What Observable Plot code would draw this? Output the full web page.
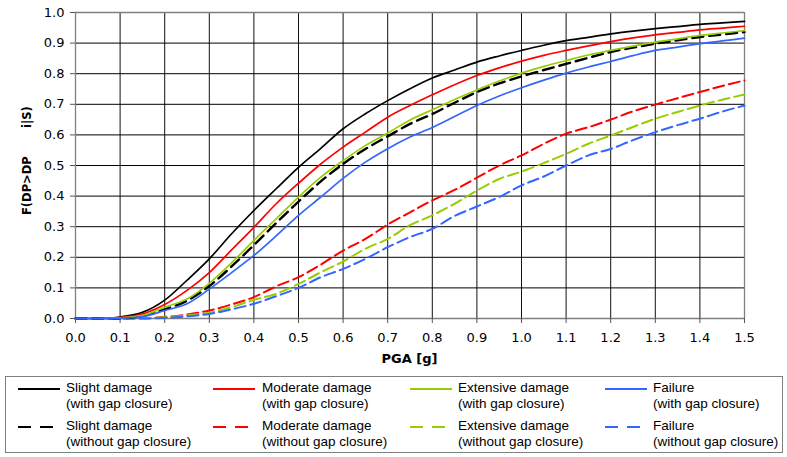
<!DOCTYPE html>
<html><head><meta charset="utf-8">
<script src="https://cdn.jsdelivr.net/npm/d3@7"></script>
<script src="https://cdn.jsdelivr.net/npm/@observablehq/plot@0.6"></script>
<style>
body{margin:0;background:#fff;}
#wrap{position:relative;width:787px;height:457px;overflow:hidden;}
#legendBox{position:absolute;left:5px;top:376px;width:778px;height:77px;border:1px solid #808080;box-sizing:border-box;}
.ltext{position:absolute;font-family:"Liberation Sans",Arial,sans-serif;font-size:13.5px;line-height:16px;color:#000;white-space:nowrap;}
.lsample{position:absolute;}
</style></head>
<body>
<div id="wrap"><div id="chart"></div><div id="legendBox"></div></div>
<script>
const pga = [0,0.05,0.1,0.15,0.2,0.25,0.3,0.35,0.4,0.45,0.5,0.55,0.6,0.65,0.7,0.75,0.8,0.85,0.9,0.95,1.0,1.05,1.1,1.15,1.2,1.25,1.3,1.35,1.4,1.45,1.5];
const slightWith   = [0,0,0.005,0.02,0.06,0.125,0.195,0.277,0.353,0.424,0.494,0.556,0.62,0.669,0.712,0.751,0.786,0.812,0.838,0.858,0.876,0.893,0.908,0.919,0.930,0.939,0.947,0.954,0.961,0.966,0.971];
const moderateWith = [0,0,0.003,0.015,0.046,0.092,0.15,0.224,0.298,0.375,0.442,0.505,0.56,0.609,0.658,0.696,0.731,0.764,0.794,0.819,0.841,0.86,0.876,0.891,0.905,0.917,0.927,0.935,0.943,0.949,0.955];
const extensiveWith= [0,0,0.002,0.01,0.037,0.064,0.115,0.182,0.255,0.326,0.397,0.462,0.516,0.565,0.606,0.649,0.682,0.716,0.747,0.776,0.802,0.824,0.843,0.861,0.876,0.89,0.903,0.914,0.925,0.933,0.941];
const failureWith  = [0,0,0.001,0.006,0.026,0.048,0.096,0.15,0.206,0.27,0.337,0.397,0.458,0.511,0.555,0.593,0.624,0.66,0.696,0.727,0.754,0.779,0.802,0.822,0.84,0.859,0.876,0.887,0.898,0.907,0.916];
const slightWithout   = [0,0,0.001,0.008,0.03,0.058,0.106,0.17,0.24,0.312,0.382,0.448,0.505,0.554,0.595,0.636,0.668,0.705,0.74,0.768,0.791,0.812,0.832,0.852,0.871,0.885,0.898,0.909,0.92,0.928,0.936];
const moderateWithout = [0,0,0,0.001,0.005,0.013,0.026,0.046,0.07,0.105,0.135,0.176,0.222,0.26,0.307,0.347,0.386,0.42,0.46,0.5,0.533,0.571,0.604,0.625,0.65,0.677,0.699,0.72,0.74,0.76,0.778];
const extensiveWithout= [0,0,0,0.001,0.004,0.01,0.019,0.037,0.061,0.081,0.113,0.151,0.186,0.228,0.26,0.305,0.337,0.375,0.418,0.456,0.48,0.508,0.538,0.571,0.598,0.626,0.653,0.675,0.696,0.715,0.732];
const failureWithout  = [0,0,0,0,0.002,0.007,0.015,0.03,0.048,0.073,0.1,0.135,0.162,0.195,0.233,0.266,0.293,0.335,0.366,0.397,0.435,0.464,0.5,0.533,0.554,0.583,0.609,0.632,0.653,0.676,0.696];

const xTicks = [0,0.1,0.2,0.3,0.4,0.5,0.6,0.7,0.8,0.9,1.0,1.1,1.2,1.3,1.4,1.5];
const yTicks = [0,0.1,0.2,0.3,0.4,0.5,0.6,0.7,0.8,0.9,1.0];

const seriesNames = ["Slight damage","Moderate damage","Extensive damage","Failure"];
const seriesColors = ["#000000","#ff0000","#99cc00","#3366ff"];
const withValues = [slightWith, moderateWith, extensiveWith, failureWith];
const withoutValues = [slightWithout, moderateWithout, extensiveWithout, failureWithout];
const withLabel = "(with gap closure)";
const withoutLabel = "(without gap closure)";
const xTitle = "PGA [g]";
const yTitleA = "F(DP>DP";
const yTitleB = "i|S)";

const toRows = (vals) => pga.map((x, i) => ({pga: x, p: vals[i]}));

const marks = [
  Plot.gridX(xTicks, {stroke: "#111", strokeOpacity: 1, strokeWidth: 1}),
  Plot.gridY(yTicks, {stroke: "#000", strokeOpacity: 1, strokeWidth: 1}),
  Plot.ruleX([0, 1.5], {stroke: "#808080", strokeWidth: 1.3}),
  Plot.ruleY([0, 1], {stroke: "#808080", strokeWidth: 1.3}),
  Plot.axisX(xTicks, {tickSize: 5, tickPadding: 9, tickFormat: d3.format(".1f"), label: null, stroke: "#555"}),
  Plot.axisY(yTicks, {tickSize: 5, tickPadding: 6, tickFormat: d3.format(".1f"), label: null, stroke: "#555"})
];
// dashed (without gap closure) first
[1,2,3].forEach(k => {
  marks.push(Plot.line(toRows(withoutValues[k]), {x: "pga", y: "p", stroke: seriesColors[k], strokeWidth: 2, strokeDasharray: "11,5", curve: "monotone-x"}));
});
marks.push(Plot.line(toRows(withoutValues[0]), {x: "pga", y: "p", stroke: seriesColors[0], strokeWidth: 2.4, strokeDasharray: "11,6", curve: "monotone-x"}));
[0,1,2,3].forEach(k => {
  marks.push(Plot.line(toRows(withValues[k]), {x: "pga", y: "p", stroke: seriesColors[k], strokeWidth: 1.7, curve: "monotone-x"}));
});

const chart = Plot.plot({
  width: 787, height: 370,
  marginLeft: 75, marginRight: 43, marginTop: 12, marginBottom: 52,
  style: {fontFamily: "'DejaVu Sans', Verdana, sans-serif", fontSize: "13px", color: "#000", background: "#fff", overflow: "visible"},
  x: {domain: [0, 1.5]},
  y: {domain: [0, 1]},
  marks
});
document.getElementById("chart").appendChild(chart);

const svg = d3.select(chart);
svg.append("text")
  .attr("x", 409.5).attr("y", 363)
  .attr("text-anchor", "middle")
  .attr("font-family", "'DejaVu Sans', Verdana, sans-serif")
  .attr("font-size", 13).attr("font-weight", "bold").attr("fill", "#000")
  .text(xTitle);
svg.append("text")
  .attr("transform", "translate(31,215) rotate(-90)")
  .attr("text-anchor", "start")
  .attr("font-family", "'DejaVu Sans', Verdana, sans-serif")
  .attr("font-size", 11.5).attr("font-weight", "bold").attr("fill", "#000")
  .text(yTitleA);
svg.append("text")
  .attr("transform", "translate(31,128) rotate(-90)")
  .attr("text-anchor", "start")
  .attr("font-family", "'DejaVu Sans', Verdana, sans-serif")
  .attr("font-size", 11.5).attr("font-weight", "bold").attr("fill", "#000")
  .text(yTitleB);

// legend
const wrap = document.getElementById("wrap");
const colSample = [18, 213, 410, 605];
const colText = [66, 262, 458, 653];
const rowLineY = [389, 427];
const rowTextTop = [380, 418];
function addItem(col, row, color, dashed, name, sub) {
  const s = d3.create("svg").attr("class", "lsample").attr("width", 44).attr("height", 10)
    .style("left", colSample[col] + "px").style("top", (rowLineY[row] - 5) + "px");
  s.append("line").attr("x1", 0).attr("x2", 42).attr("y1", 5).attr("y2", 5)
    .attr("stroke", color).attr("stroke-width", 2.2)
    .attr("stroke-dasharray", dashed ? "13,9" : null);
  wrap.appendChild(s.node());
  const t = document.createElement("div");
  t.className = "ltext";
  t.style.left = colText[col] + "px";
  t.style.top = rowTextTop[row] + "px";
  t.innerHTML = name + "<br>" + sub;
  wrap.appendChild(t);
}
seriesNames.forEach((n, k) => {
  addItem(k, 0, seriesColors[k], false, n, withLabel);
  addItem(k, 1, seriesColors[k], true, n, withoutLabel);
});
</script>
</body></html>
